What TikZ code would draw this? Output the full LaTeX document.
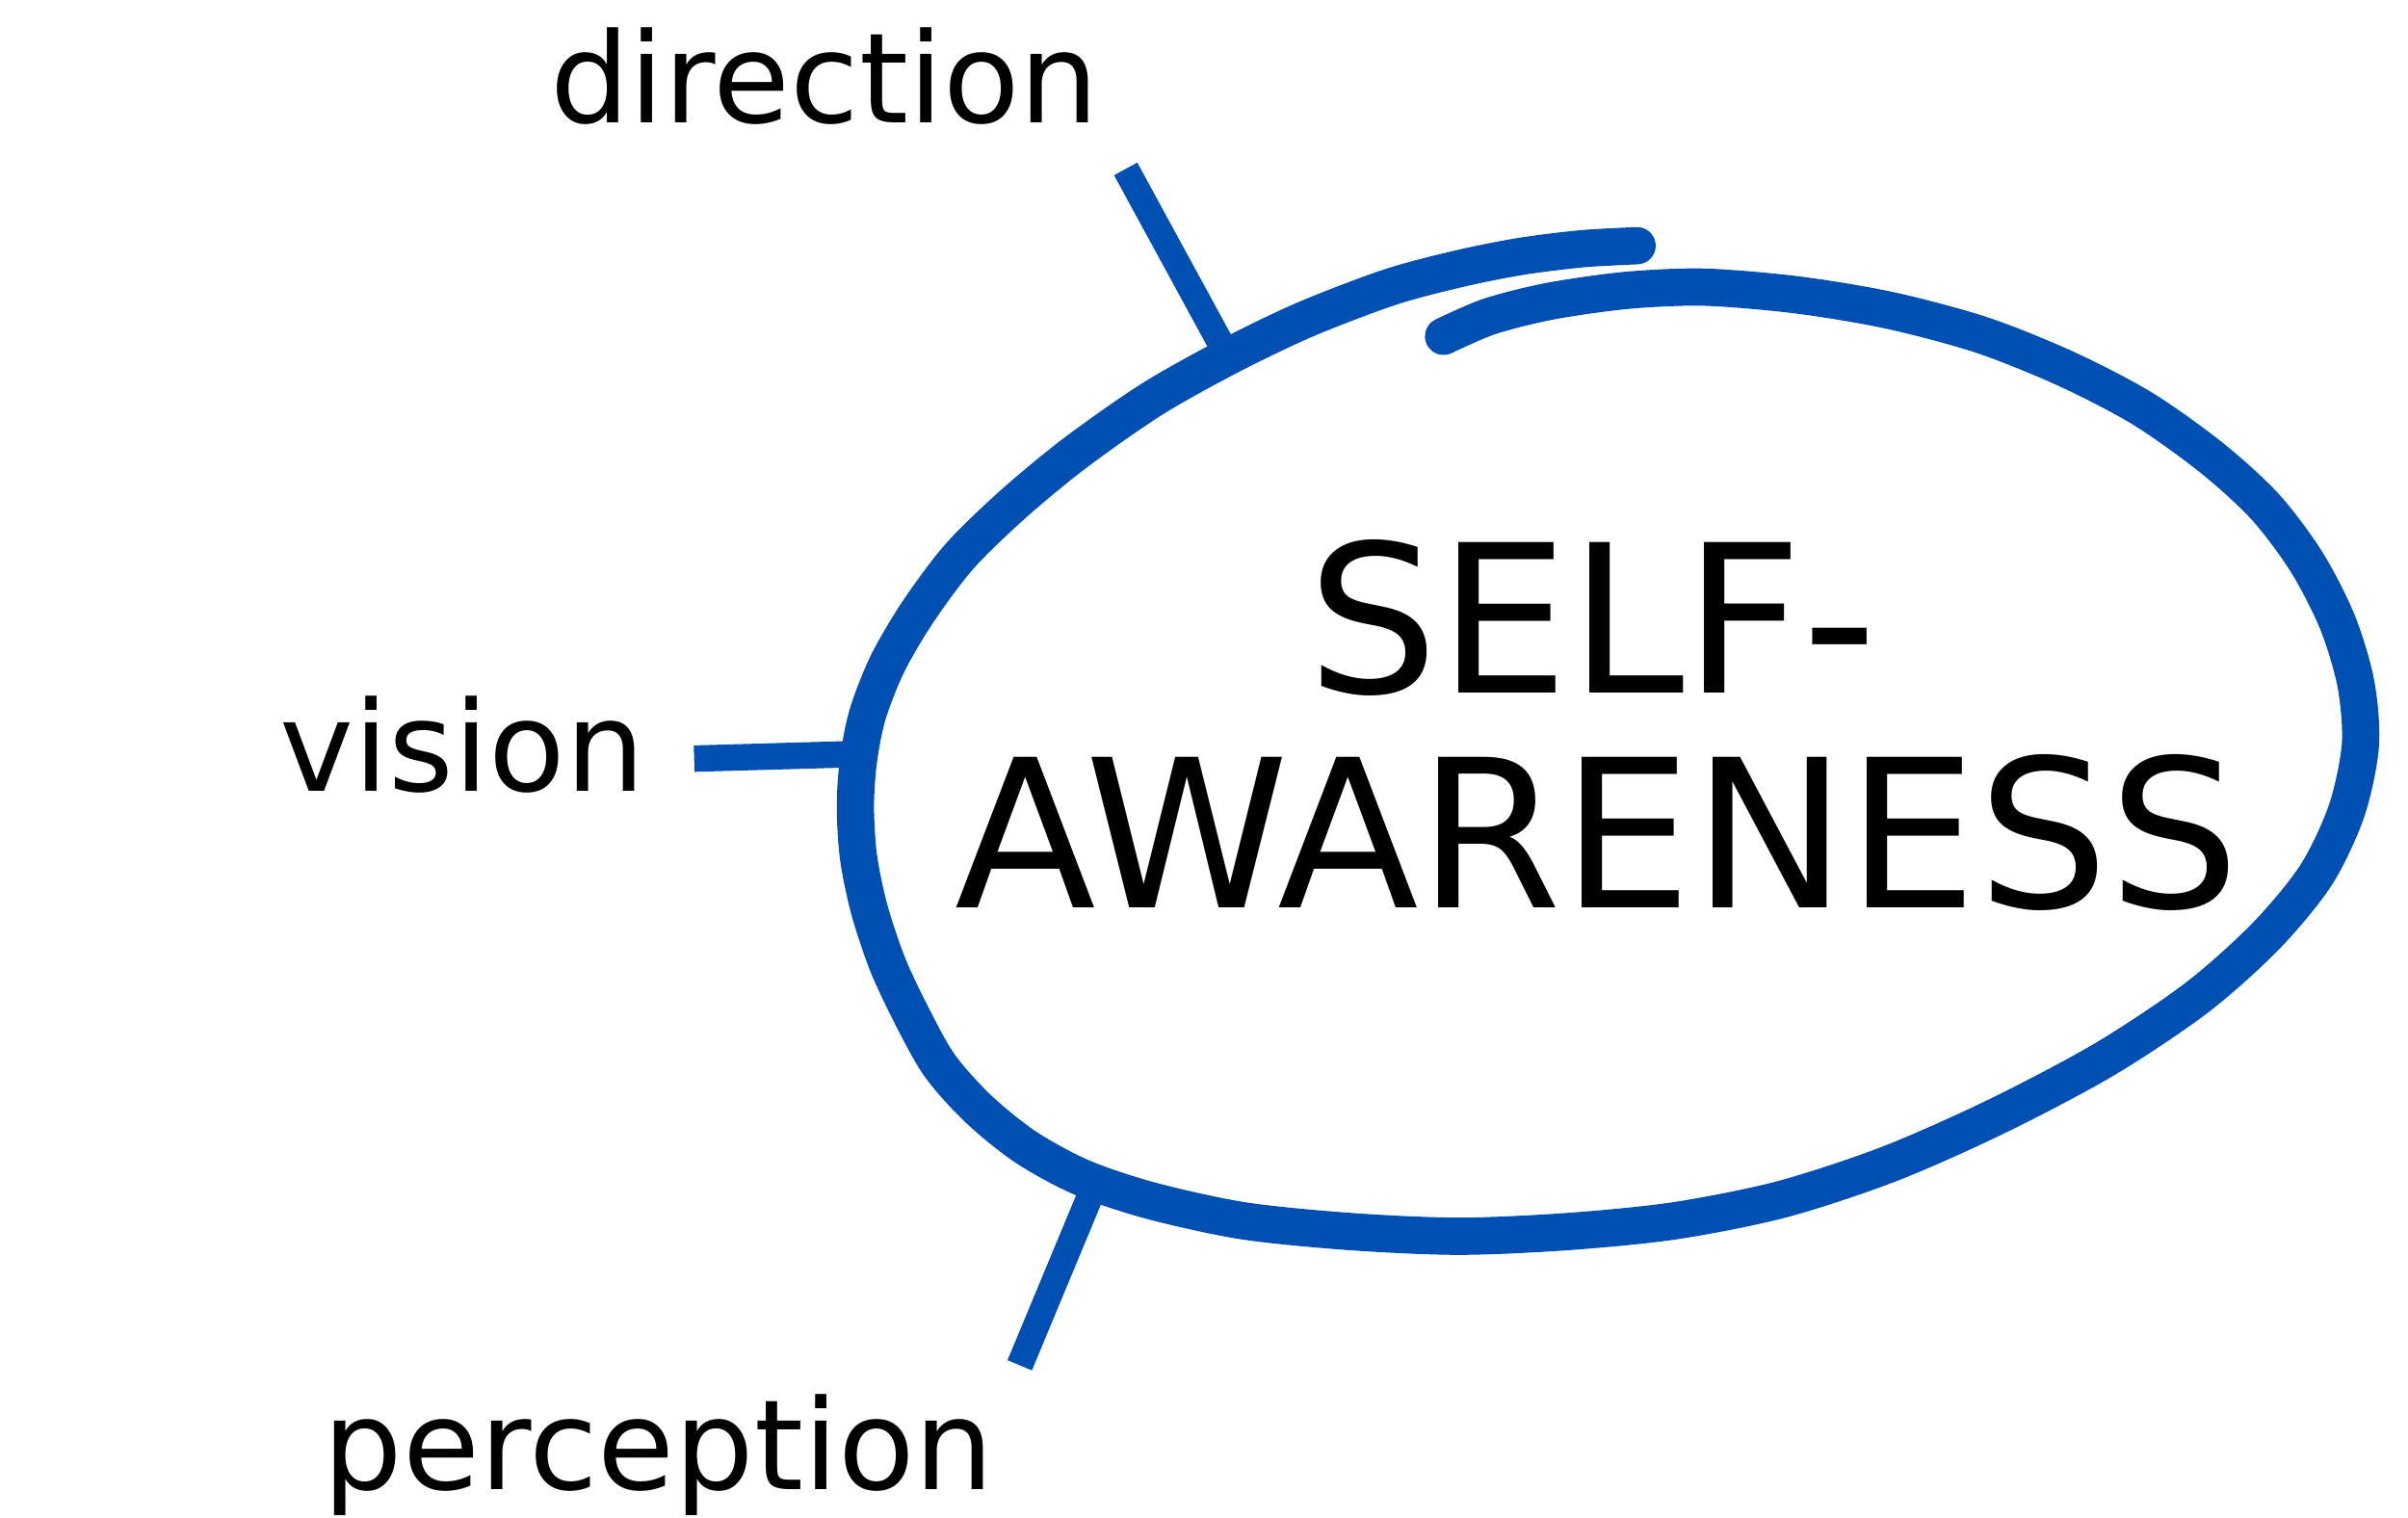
\documentclass[tikz,border=0pt]{standalone}
\usepackage{fontspec}
\setmainfont{DejaVu Sans}
\usetikzlibrary{positioning}

\begin{document}
\begin{tikzpicture}[x=0.015944cm, y=-0.015944cm, line cap=round, line join=round]
    \definecolor{loopblue}{HTML}{0050B4}

    % --- pen widths, pt
    \pgfmathsetmacro{\pen}{11}    % the loop
    \pgfmathsetmacro{\tick}{7.8}  % the three cross strokes

    \tikzset{
      label/.style={font=\fontsize{37}{40}\selectfont, anchor=base, inner sep=0pt},
      title/.style={font=\fontsize{61}{66}\selectfont, anchor=base, inner sep=0pt},
      crossstroke/.style={draw=loopblue, line width=\tick pt, line cap=butt}
    }

    \useasboundingbox (0,0) rectangle (1568,988);

    % --- the words
    \node[label] (direction) at (537,80) {direction};
    \node[label] (vision) at (301,515) {vision};
    \node[label] (perception) at (429,970) {perception};
    \node[title] (self) at (1037,451) {SELF-};
    \node[title] (aware) at (1040,591) {AWARENESS};

    % --- the loop, one open stroke that winds once round the title
    \draw[loopblue, line width=\pen pt] plot[smooth] coordinates {
      (1066,160) (1030,162) (990,167) (950,175) (905,187)
      (850,208) (800,232) (750,260) (700,295)
      (660,328) (625,362) (598,398) (578,432) (565,465) (559,495)
      (557,525) (559,558) (566,592) (578,628) (594,662) (612,694) (637,722)
      (668,747) (705,767) (750,782) (810,795) (880,802) (950,805) (1020,802)
      (1090,795) (1160,781) (1230,758) (1300,727) (1370,690) (1430,650)
      (1475,610) (1508,570) (1528,528) (1537,485) (1534,445)
      (1522,405) (1502,366) (1475,330) (1440,298) (1395,266) (1345,240)
      (1290,218) (1230,202) (1170,192) (1110,187) (1060,189) (1010,196)
      (970,206) (940,219)};

    % --- the three cross strokes, each pointing at its word
    \coordinate (dirtop) at (733,110);
    \coordinate (dirfoot) at (800,233);
    \coordinate (visleft) at (452,494);
    \coordinate (visright) at (558,491);
    \coordinate (pertop) at (716,764);
    \coordinate (perfoot) at (664,889);
    \draw[crossstroke] (dirtop) -- (dirfoot);
    \draw[crossstroke] (visleft) -- (visright);
    \draw[crossstroke] (pertop) -- (perfoot);
\end{tikzpicture}
\end{document}
